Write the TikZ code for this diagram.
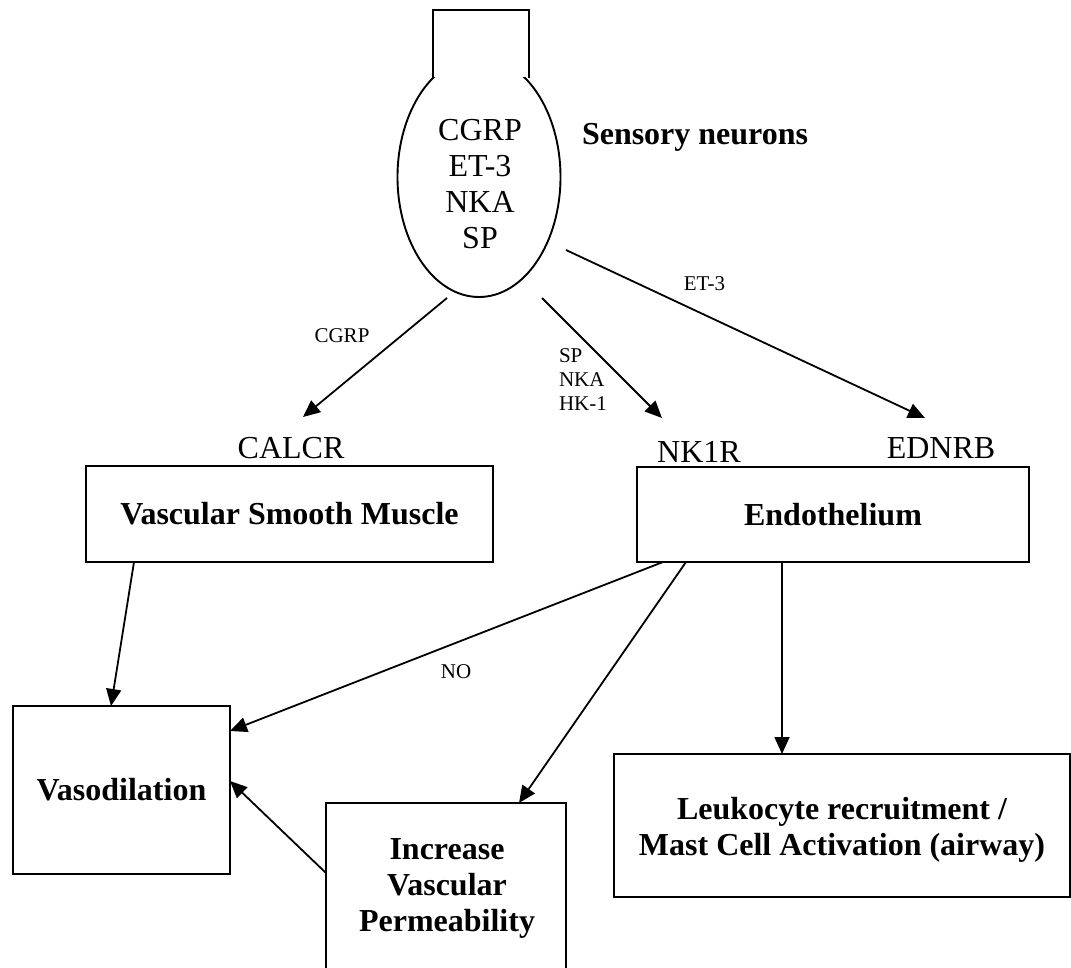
\documentclass[tikz,border=0pt]{standalone}
\usepackage{fontspec}
\setmainfont{Liberation Serif}
\usetikzlibrary{shapes.geometric,arrows.meta}
\begin{document}
\begin{tikzpicture}[x=1pt,y=-1pt,
  every node/.style={inner sep=0pt, outer sep=0pt},
  bigtxt/.style={font=\fontsize{32}{36}\selectfont},
  bigbold/.style={font=\fontsize{32}{36}\selectfont\bfseries},
  smalltxt/.style={font=\fontsize{21}{24}\selectfont},
  flowbox/.style={draw, line width=1.9pt, rectangle, anchor=north west, bigbold, align=center},
  arr/.style={line width=1.8pt, -{Triangle[length=17pt,width=15pt]}},
  thin line/.style={line width=1.9pt},
]
\useasboundingbox (0,0) rectangle (1071,968);

% sensory neuron
\node[draw, ellipse, thin line, minimum width=163pt, minimum height=240pt] (neuron) at (479,177) {};
\fill[white] (433,10) rectangle (529,77);
\draw[thin line] (433,78) -- (433,10) -- (529,10) -- (529,78);
\node[bigtxt, align=center] (neurontext) at (480,184) {CGRP\\ET-3\\NKA\\SP};
\node[bigbold, anchor=base west] (sensory) at (582,145) {Sensory neurons};

% receptors
\node[bigtxt, anchor=base] (calcr) at (291,458) {CALCR};
\node[bigtxt, anchor=base] (nk1r) at (699,462) {NK1R};
\node[bigtxt, anchor=base] (ednrb) at (941,458) {EDNRB};

% boxes
\node[flowbox, minimum width=407pt, minimum height=96pt] (vsm) at (86,466) {Vascular Smooth Muscle};
\node[flowbox, minimum width=392pt, minimum height=95pt] (endo) at (637,467) {Endothelium};
\node[flowbox, minimum width=217pt, minimum height=168pt] (vaso) at (13,706) {Vasodilation};
\node[draw, thin line, rectangle, anchor=north west, minimum width=240pt, minimum height=200pt] (perm) at (326,803) {};
\node[bigbold, align=center] (permtext) at (447,888) {Increase\\Vascular\\Permeability};
\node[draw, thin line, rectangle, anchor=north west, minimum width=456pt, minimum height=143pt] (leuk) at (614,754) {};
\node[bigbold, align=center] (leuktext) at (842,830) {Leukocyte recruitment /\\Mast Cell Activation (airway)};

% arrows from neuron
\draw[arr] ([shift={(-32,121)}]neuron.center) -- ([shift={(12,-41)}]calcr.base);
\draw[arr] ([shift={(63,121)}]neuron.center) -- ([shift={(-37,-44)}]nk1r.base);
\draw[arr] ([shift={(87,73)}]neuron.center) -- ([shift={(-16,-40)}]ednrb.base);

\node[smalltxt, anchor=base] (lcgrp) at (342,342) {CGRP};
\node[smalltxt, align=left, anchor=north west] (lsp) at (559,349) {SP\\NKA\\HK-1};
\node[smalltxt, anchor=base] (let3) at (704.5,291) {ET-3};

% lower arrows
\draw[arr] ([xshift=48pt]vsm.south west) -- ([xshift=98pt]vaso.north west);
\draw[arr] ([xshift=26pt]endo.south west) -- ([yshift=-25pt]vaso.north east);
\draw[arr] ([xshift=49pt]endo.south west) -- ([xshift=193pt]perm.north west);
\draw[arr] ([xshift=145pt]endo.south west) -- ([xshift=168pt]leuk.north west);
\draw[arr] ([yshift=-70pt]perm.north west) -- ([yshift=-75pt]vaso.north east);
\node[smalltxt, anchor=base] (lno) at (456,678) {NO};
\end{tikzpicture}
\end{document}
